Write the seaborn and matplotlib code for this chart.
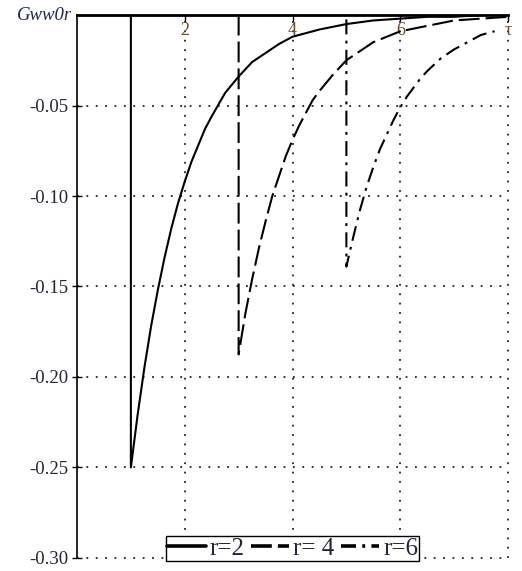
import matplotlib
matplotlib.use("Agg")
import matplotlib.pyplot as plt
from matplotlib import font_manager
from matplotlib.lines import Line2D
import seaborn as sns
import pandas as pd

# Green's function response Gww0r(tau) for three values of r
tau_r2 = [0.0, 1.0, 1.0, 1.125, 1.25, 1.375, 1.5, 1.625, 1.75, 1.875, 2.0, 2.125,
          2.25, 2.375, 2.5, 2.75, 3.0, 3.25, 3.5, 3.75, 4.0, 4.5, 5.0, 5.5, 6.0,
          6.5, 7.0, 7.5, 8.0]
g_r2 = [0.0, 0.0, -0.250, -0.221, -0.195, -0.172, -0.152, -0.134, -0.118, -0.104,
        -0.092, -0.081, -0.072, -0.063, -0.056, -0.043, -0.034, -0.026, -0.021,
        -0.016, -0.012, -0.008, -0.005, -0.003, -0.002, -0.001, -0.001, 0.000, 0.000]

tau_r4 = [0.0, 3.0, 3.0, 3.125, 3.25, 3.375, 3.5, 3.625, 3.75, 3.875, 4.0, 4.125,
          4.25, 4.375, 4.5, 4.75, 5.0, 5.25, 5.5, 5.75, 6.0, 6.5, 7.0, 7.5, 8.0]
g_r4 = [0.0, 0.0, -0.1875, -0.165, -0.146, -0.129, -0.114, -0.100, -0.089, -0.078,
        -0.069, -0.061, -0.054, -0.047, -0.042, -0.033, -0.025, -0.020, -0.015,
        -0.012, -0.009, -0.006, -0.003, -0.002, -0.001]

tau_r6 = [0.0, 5.0, 5.0, 5.125, 5.25, 5.375, 5.5, 5.625, 5.75, 5.875, 6.0, 6.125,
          6.25, 6.375, 6.5, 6.75, 7.0, 7.25, 7.5, 7.75]
g_r6 = [0.0, 0.0, -0.139, -0.123, -0.108, -0.095, -0.084, -0.074, -0.066, -0.058,
        -0.051, -0.045, -0.040, -0.035, -0.031, -0.024, -0.019, -0.015, -0.011,
        -0.009]

series_labels = ["r=2", "r= 4", "r=6"]
x_ticks = [2, 4, 6, 8]
x_ticklabels = ["2", "4", "6", "τ"]
y_ticks = [-0.30, -0.25, -0.20, -0.15, -0.10, -0.05]
y_ticklabels = ["-0.30", "-0.25", "-0.20", "-0.15", "-0.10", "-0.05"]
y_name = "Gww0r"

frames = []
for lab, xs, ys in zip(series_labels, [tau_r2, tau_r4, tau_r6], [g_r2, g_r4, g_r6]):
    frames.append(pd.DataFrame({"tau": xs, "G": ys, "r": lab}))
df = pd.concat(frames, ignore_index=True)

# register a Times-like serif face if it is available on the system
serif_name = None
for path in font_manager.findSystemFonts():
    base = path.split("/")[-1].lower()
    if base.startswith("liberationserif"):
        font_manager.fontManager.addfont(path)
        if base == "liberationserif-regular.ttf":
            serif_name = font_manager.FontProperties(fname=path).get_name()
if serif_name is None:
    serif_name = "Liberation Serif"

sns.set_theme(style="white")
plt.rcParams["font.family"] = [serif_name, "DejaVu Serif"]

LW = 1.5
HLW = 2.6
dash_map = {"r=2": "", "r= 4": (10.0, 2.9), "r=6": (7.2, 3.0, 1.4, 3.0)}

fig = plt.figure(figsize=(5.22, 5.71), dpi=100)
ax = fig.add_axes([0.1475, 0.0228, 0.8257, 0.9509])

sns.lineplot(data=df, x="tau", y="G", style="r", dashes=dash_map, color="black",
             linewidth=LW, estimator=None, sort=False, units="r", legend=False,
             ax=ax)

ax.set_xlim(0, 8)
ax.set_ylim(-0.30, 0)
ax.set_xlabel("")
ax.set_ylabel("")

for side in ["bottom", "right"]:
    ax.spines[side].set_visible(False)
ax.spines["top"].set_linewidth(2.0)
ax.spines["top"].set_color("black")
ax.spines["left"].set_linewidth(1.2)
ax.spines["left"].set_color("black")

ax.xaxis.tick_top()
ax.set_xticks(x_ticks)
ax.set_xticklabels(x_ticklabels)
ax.tick_params(axis="x", direction="in", length=4, width=1, color="black",
               pad=-17, labelsize=13, labelcolor="#6e4b1f", top=True, bottom=False)

ax.set_yticks(y_ticks)
ax.set_yticklabels(y_ticklabels)
ax.tick_params(axis="y", direction="inout", length=7, width=1, color="black",
               pad=3, labelsize=13.5, labelcolor="#25253a", left=True)

ax.grid(True, color="#222222", linestyle=(0, (1.0, 4.2)), linewidth=1.3)
for gl in ax.xaxis.get_gridlines() + ax.yaxis.get_gridlines():
    gl.set_clip_on(False)

ax.text(-0.012, 0.0, y_name, transform=ax.get_yaxis_transform(), ha="right",
        va="center", fontsize=13.5, style="italic", color="#1e2a4a")

handles = []
for k in series_labels:
    d = dash_map[k]
    if d == "":
        handles.append(Line2D([0], [0], color="black", linewidth=HLW))
    else:
        scaled = tuple(v * LW / HLW for v in d)
        handles.append(Line2D([0], [0], color="black", linewidth=HLW, dashes=scaled))
leg = ax.legend(handles, series_labels, loc="center",
                bbox_to_anchor=(0.5, 0.017), ncol=3, frameon=True,
                fancybox=False, framealpha=1.0, edgecolor="black",
                fontsize=18, handlelength=1.55, handletextpad=0.15,
                columnspacing=0.25, borderpad=0.05, borderaxespad=0.0)
leg.get_frame().set_linewidth(1.0)
for t in leg.get_texts():
    t.set_color("#25253a")

fig.savefig("out.png", dpi=100)
